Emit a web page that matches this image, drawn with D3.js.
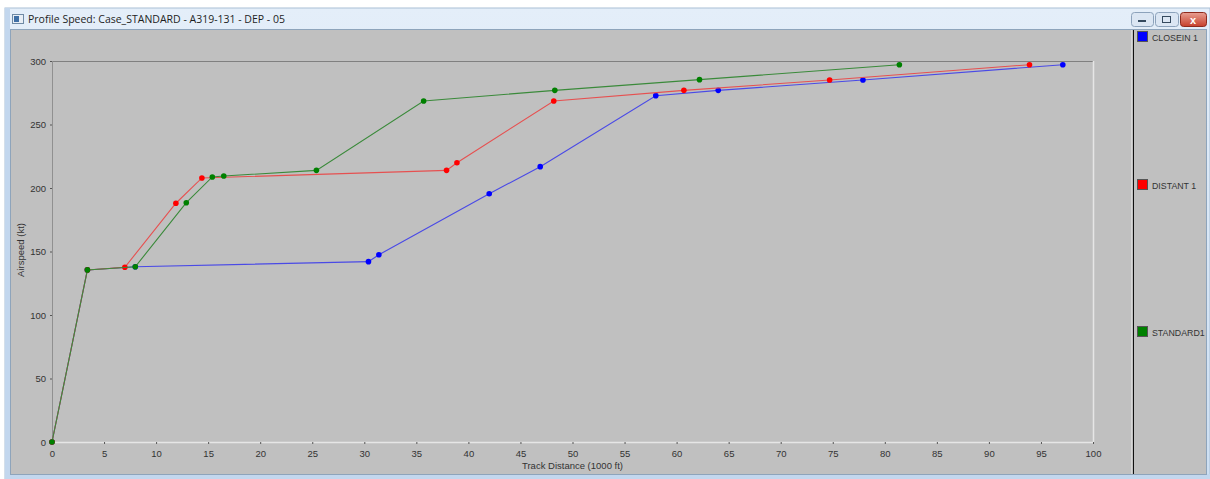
<!DOCTYPE html>
<html><head><meta charset="utf-8">
<script src="https://cdn.jsdelivr.net/npm/d3@7"></script>
<style>
html,body{margin:0;padding:0;background:#fff;}
svg{display:block;font-family:"Liberation Sans",Arial,sans-serif;}
</style></head>
<body>
<svg id="c" width="1210" height="479"></svg>
<script>
const titleText = "Profile Speed: Case_STANDARD - A319-131 - DEP - 05";
const xTitle = "Track Distance (1000 ft)";
const yTitle = "Airspeed (kt)";
const xTicks = [0,5,10,15,20,25,30,35,40,45,50,55,60,65,70,75,80,85,90,95,100];
const yTicks = [0,50,100,150,200,250,300];
const seriesNames = ["CLOSEIN 1","DISTANT 1","STANDARD1"];
const seriesColors = ["#0000ff","#ff0000","#008000"];
const lineColors = ["#4a4ae6","#e65050","#3a8a3a"];
const closeinX = [0,3.4,8.0,30.4,31.4,42.0,46.9,58.0,64.0,77.9,97.1];
const closeinY = [0,135.5,138,142,147.5,195.5,216.8,272.7,276.9,285,297.1];
const distantX = [0,3.4,7.0,11.9,14.4,37.9,38.9,48.2,60.7,74.7,93.9];
const distantY = [0,135.5,137.6,188,207.9,213.9,219.9,268.5,276.9,285,297.1];
const standardX = [0,3.4,8.0,12.9,15.4,16.5,25.4,35.7,48.3,62.2,81.4];
const standardY = [0,135.5,138,188.4,208.7,209.4,213.9,268.5,276.9,285.3,297.1];
const seriesX = [closeinX, distantX, standardX];
const seriesY = [closeinY, distantY, standardY];

const svg = d3.select("#c");
// window frame
const defs = svg.append("defs");
const g1 = defs.append("linearGradient").attr("id","tb").attr("x1",0).attr("y1",0).attr("x2",0).attr("y2",1);
g1.append("stop").attr("offset","0").attr("stop-color","#e4eef9");
g1.append("stop").attr("offset","1").attr("stop-color","#cddff2");
const g2 = defs.append("linearGradient").attr("id","cb").attr("x1",0).attr("y1",0).attr("x2",0).attr("y2",1);
g2.append("stop").attr("offset","0").attr("stop-color","#e8a093");
g2.append("stop").attr("offset","1").attr("stop-color","#c7402c");
svg.append("rect").attr("x",5).attr("y",8).attr("width",1205).attr("height",471).attr("fill","url(#tb)").attr("stroke","#a9bfd6");
svg.append("rect").attr("x",5).attr("y",8).attr("width",5).attr("height",471).attr("fill","#c3d7ee");
svg.append("rect").attr("x",10).attr("y",474).attr("width",1200).attr("height",5).attr("fill","#c3d7ee");
// client
svg.append("rect").attr("x",10.5).attr("y",29.5).attr("width",1196).attr("height",445).attr("fill","#c0c0c0").attr("stroke","#8ea4bb");
// title icon
svg.append("rect").attr("x",12.5).attr("y",14.5).attr("width",11).attr("height",9).attr("fill","#e8eef5").attr("stroke","#6f8aa5");
svg.append("rect").attr("x",14).attr("y",16).attr("width",5).attr("height",6).attr("fill","#3f6fa5");
svg.append("text").attr("x",28).attr("y",23).attr("font-family","'Open Sans','Noto Sans',sans-serif").attr("font-size",10.5).attr("fill","#1e1e1e").text(titleText);
// window buttons
const btns=[{x:1131,w:22,f:"#dbe6f3"},{x:1155,w:23,f:"#dbe6f3"},{x:1180,w:26,f:"url(#cb)"}];
btns.forEach((b,i)=>{
  svg.append("rect").attr("x",b.x+0.5).attr("y",12.5).attr("width",b.w).attr("height",14).attr("rx",3).attr("fill",b.f).attr("stroke",i==2?"#8e2a1d":"#8ca2bb");
});
svg.append("rect").attr("x",1138).attr("y",20).attr("width",8).attr("height",2).attr("fill","#34495e");
svg.append("rect").attr("x",1162.5).attr("y",16.5).attr("width",8).attr("height",6).attr("fill","none").attr("stroke","#34495e");
svg.append("text").attr("x",1193).attr("y",24).attr("text-anchor","middle").attr("font-size",11).attr("font-weight","bold").attr("fill","#fff").text("x");

// plot
const L=52, R=1093, T=61, B=442;
const x = d3.scaleLinear().domain([0,100]).range([L,R]);
const y = d3.scaleLinear().domain([0,300]).range([B,T]);
const plot = svg.append("g");
plot.append("line").attr("x1",L).attr("x2",R).attr("y1",T+0.5).attr("y2",T+0.5).attr("stroke","#808080");
plot.append("line").attr("x1",L+0.5).attr("x2",L+0.5).attr("y1",T).attr("y2",B).attr("stroke","#909090");
plot.append("line").attr("x1",L).attr("x2",R+1).attr("y1",B+0.5).attr("y2",B+0.5).attr("stroke","#e6e6e6").attr("stroke-width",1.5);
plot.append("line").attr("x1",R+0.5).attr("x2",R+0.5).attr("y1",T).attr("y2",B).attr("stroke","#e6e6e6").attr("stroke-width",1.5);

const xa = svg.append("g").attr("transform",`translate(0,${B})`)
  .call(d3.axisBottom(x).tickValues(xTicks).tickSize(2).tickPadding(6).tickFormat(d3.format("d")));
const ya = svg.append("g").attr("transform",`translate(${L},0)`)
  .call(d3.axisLeft(y).tickValues(yTicks).tickSize(2).tickPadding(4).tickFormat(d3.format("d")));
[xa,ya].forEach(a=>{
  a.select(".domain").remove();
  a.selectAll(".tick line").attr("stroke","#555");
  a.selectAll(".tick text").attr("fill","#333").attr("font-size",9.5).attr("font-family","'Liberation Sans',Arial,sans-serif");
});
svg.append("text").attr("x",(L+R)/2).attr("y",469).attr("text-anchor","middle").attr("font-size",9.5).attr("fill","#333").text(xTitle);
svg.append("text").attr("transform","translate(24,250) rotate(-90)").attr("text-anchor","middle").attr("font-size",9.5).attr("fill","#333").text(yTitle);

const line = d3.line().x(d=>x(d[0])).y(d=>y(d[1]));
seriesNames.forEach((n,i)=>{
  const pts = seriesX[i].map((v,j)=>[v, seriesY[i][j]]);
  const g = svg.append("g");
  g.append("path").datum(pts).attr("d",line).attr("fill","none").attr("stroke",lineColors[i]).attr("stroke-width",1.1);
  g.selectAll("circle").data(pts).join("circle").attr("cx",d=>x(d[0])).attr("cy",d=>y(d[1])).attr("r",2.8).attr("fill",seriesColors[i]);
});

// legend
svg.append("line").attr("x1",1131.5).attr("x2",1131.5).attr("y1",30).attr("y2",474).attr("stroke","#d6d6d6");
svg.append("line").attr("x1",1133.5).attr("x2",1133.5).attr("y1",30).attr("y2",474).attr("stroke","#111");
const legY = [37,185,332];
seriesNames.forEach((n,i)=>{
  svg.append("rect").attr("x",1137.5).attr("y",legY[i]-5.5).attr("width",10).attr("height",10).attr("fill",seriesColors[i]).attr("stroke","#555");
  svg.append("text").attr("x",1152).attr("y",legY[i]+3.5).attr("font-size",8.8).attr("fill","#333").text(n);
});
</script>
</body></html>
